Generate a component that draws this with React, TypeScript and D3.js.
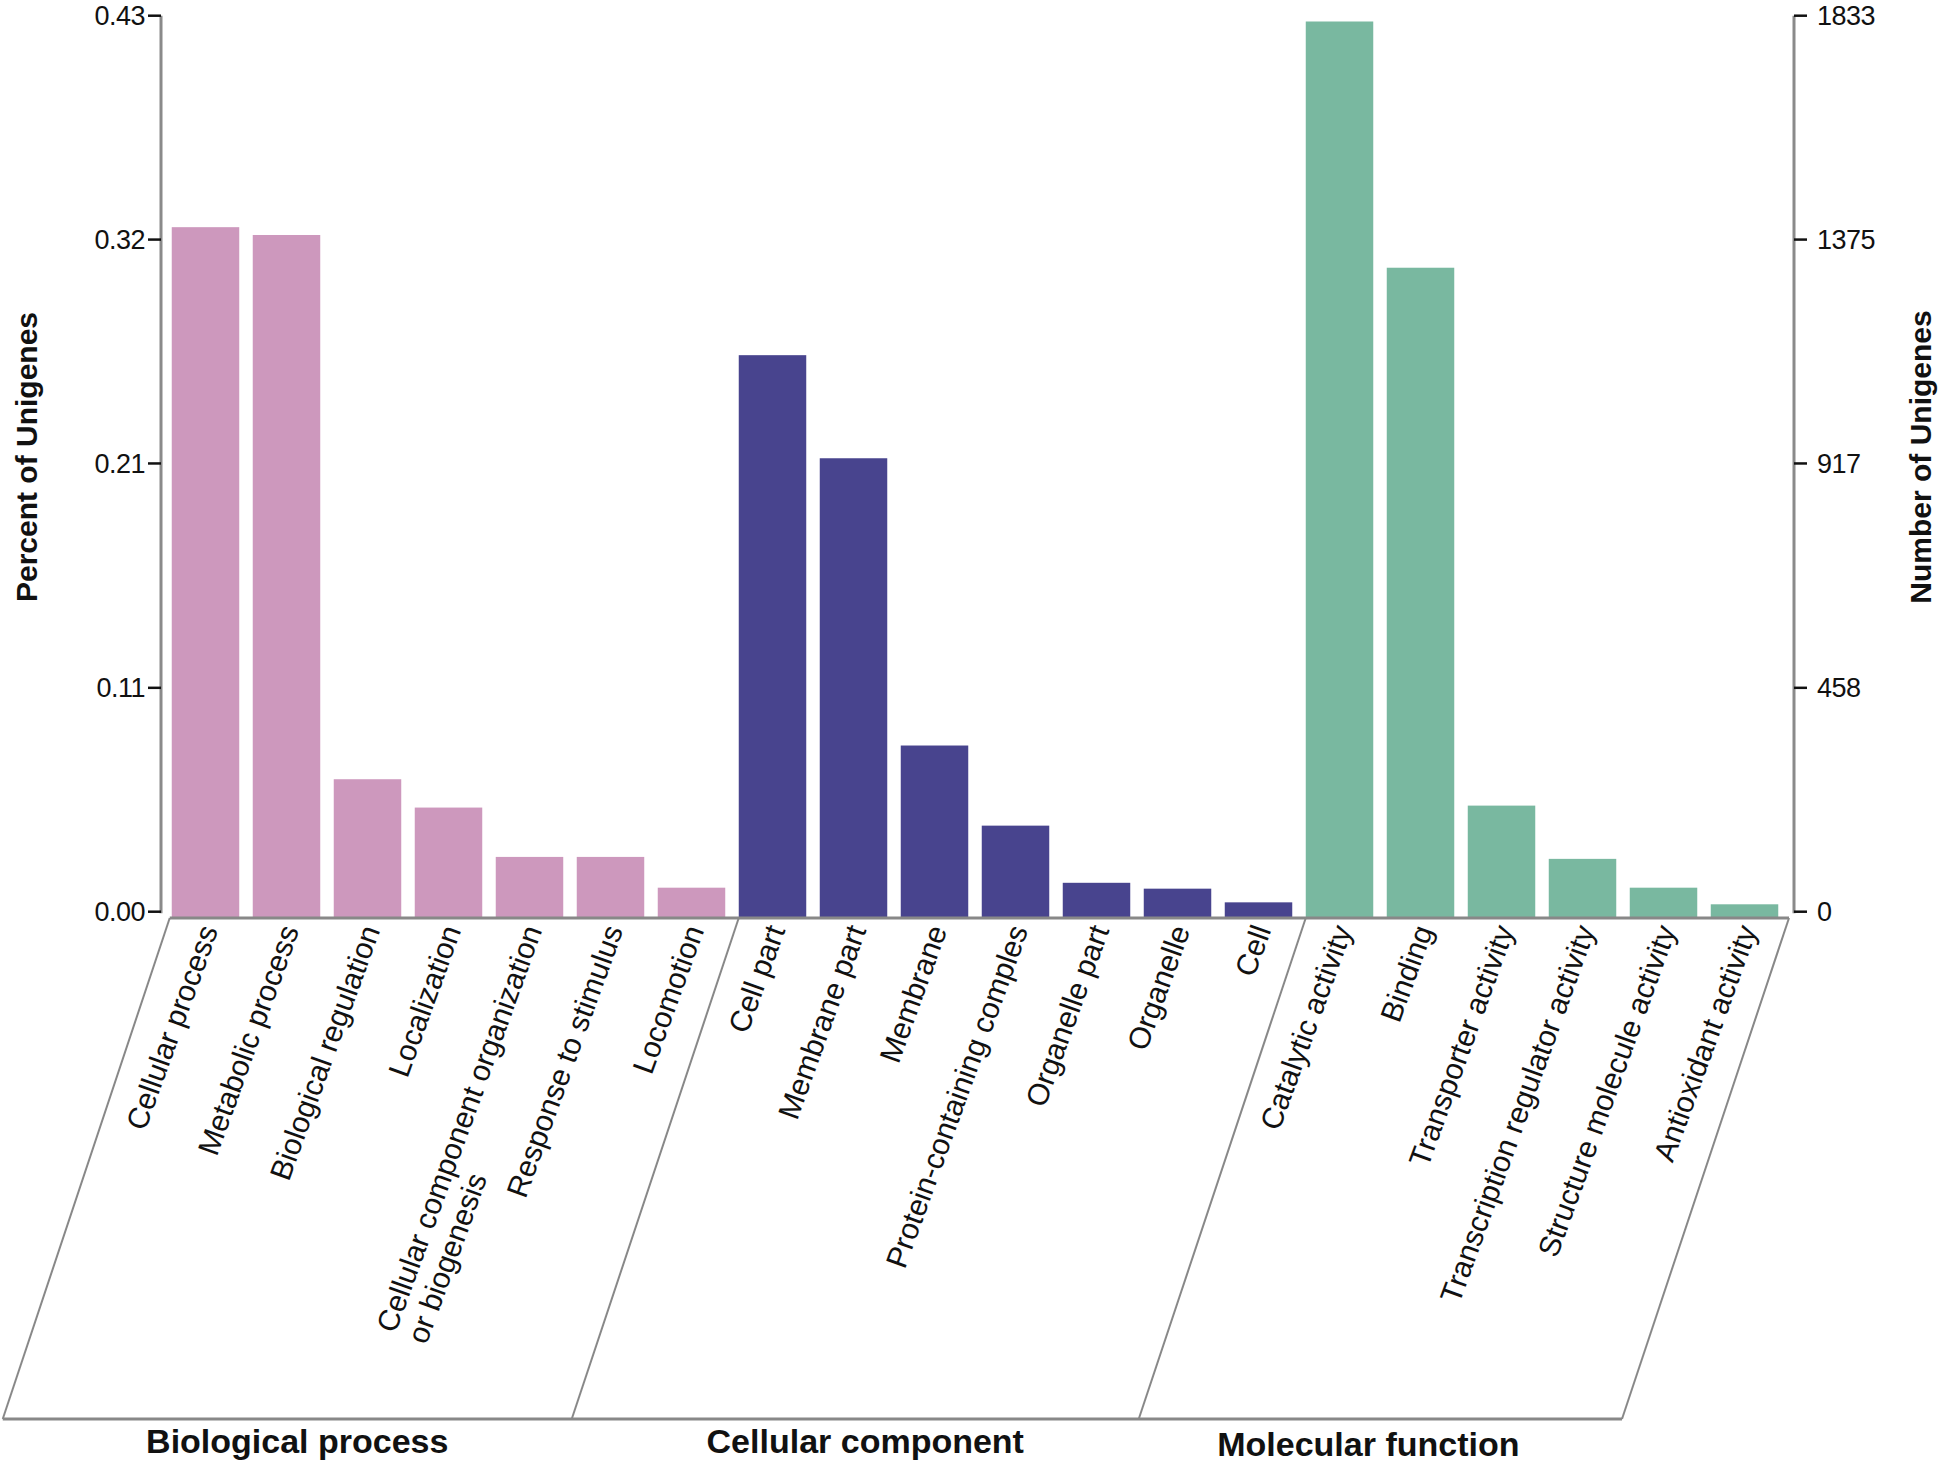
import React from "react";
import * as d3 from "d3";

const categories = [
  "Cellular process", "Metabolic process", "Biological regulation", "Localization",
  "Cellular component organization\nor biogenesis", "Response to stimulus", "Locomotion",
  "Cell part", "Membrane part", "Membrane", "Protein-containing comples", "Organelle part",
  "Organelle", "Cell",
  "Catalytic activity", "Binding", "Transporter activity", "Transcription regulator activity",
  "Structure molecule activity", "Antioxidant activity",
];
const counts = [1412, 1396, 282, 224, 123, 123, 60, 1150, 939, 351, 187, 70, 58, 30, 1833, 1329, 228, 119, 60, 26];
const groupNames = ["Biological process", "Cellular component", "Molecular function"];
const groupSizes = [7, 7, 6];
const groupColors = ["#CD98BD", "#48448E", "#79B8A0"];
const rightTickValues = [0, 458, 917, 1375, 1833];
const leftTickLabels = ["0.00", "0.11", "0.21", "0.32", "0.43"];

const W = 1944, H = 1464;
const FONT = "'Liberation Sans', Arial, Helvetica, sans-serif";
const LABEL_SIZE = 30;
const ANGLE = -70;

function measure(text: string, size: number) {
  const c = document.createElement("canvas").getContext("2d");
  if (!c) return text.length * size * 0.5;
  c.font = `${size}px 'Liberation Sans', Arial, sans-serif`;
  return c.measureText(text).width;
}

export default function App() {
  const x = d3.scaleBand<string>().domain(categories).range([165, 1785]).paddingInner(0.1667).paddingOuter(0.0833);
  const y = d3.scaleLinear().domain([0, 1833]).range([917, 21.5]);
  const yAxis = d3.scaleLinear().domain([0, 1833]).range([911.7, 15.7]);
  const leftX = 161, rightX = 1794, baseY = 918, bottomY = 1419;
  const slant = (bottomY - baseY) / 3;

  const groupIdx: number[] = [];
  groupSizes.forEach((n, g) => { for (let i = 0; i < n; i++) groupIdx.push(g); });
  const starts: number[] = [];
  let acc = 0;
  groupSizes.forEach((n) => { starts.push(acc); acc += n; });

  const topXs = [x(categories[0])! - 2, ...starts.slice(1).map((s) => x(categories[s])!), rightX - 5];
  const groupLabelOffsets = [10, 10, -12];
  const groupLabelBase = [1453, 1453, 1456];

  return (
    <svg width={W} height={H} style={{ position: "absolute", left: 0, top: 0, display: "block", background: "#fff" }} fontFamily={FONT}>
      {/* bars */}
      {counts.map((v, i) => (
        <rect key={i} x={x(categories[i])} y={y(v)} width={x.bandwidth()} height={y(0) - y(v)} fill={groupColors[groupIdx[i]]} />
      ))}
      {/* left axis */}
      <line x1={leftX} x2={leftX} y1={yAxis(1833)} y2={yAxis(0) + 1.5} stroke="#8a8a8a" strokeWidth={3} />
      {rightTickValues.map((v, i) => (
        <g key={"l" + i}>
          <line x1={leftX - 13} x2={leftX} y1={yAxis(v)} y2={yAxis(v)} stroke="#111" strokeWidth={2.5} />
          <text x={leftX - 16} y={yAxis(v)} dy="0.35em" textAnchor="end" fontSize={27} fill="#111" letterSpacing={-0.5}>{leftTickLabels[i]}</text>
        </g>
      ))}
      {/* right axis */}
      <line x1={rightX} x2={rightX} y1={yAxis(1833)} y2={yAxis(0) + 1.5} stroke="#8a8a8a" strokeWidth={3} />
      {rightTickValues.map((v, i) => (
        <g key={"r" + i}>
          <line x1={rightX} x2={rightX + 13} y1={yAxis(v)} y2={yAxis(v)} stroke="#111" strokeWidth={2.5} />
          <text x={rightX + 23} y={yAxis(v)} dy="0.35em" textAnchor="start" fontSize={27} fill="#111" letterSpacing={-0.5}>{v}</text>
        </g>
      ))}
      {/* axis titles */}
      <text transform={`translate(37,457) rotate(-90)`} textAnchor="middle" fontSize={30} fontWeight="bold" fill="#111">Percent of Unigenes</text>
      <text transform={`translate(1931,457) rotate(-90)`} textAnchor="middle" fontSize={30} fontWeight="bold" fill="#111">Number of Unigenes</text>
      {/* baseline & parallelogram */}
      <line x1={topXs[0]} x2={topXs[3]} y1={baseY} y2={baseY} stroke="#888" strokeWidth={3} />
      <line x1={topXs[0] - slant} x2={topXs[3] - slant} y1={bottomY} y2={bottomY} stroke="#888" strokeWidth={3} />
      {topXs.map((tx, i) => (
        <line key={"s" + i} x1={tx} y1={baseY} x2={tx - slant} y2={bottomY} stroke="#888" strokeWidth={2} />
      ))}
      {/* category labels */}
      {categories.map((c, i) => {
        const cx = x(c)! + x.bandwidth() / 2;
        const lines = c.split("\n");
        const w0 = measure(lines[0], LABEL_SIZE);
        return (
          <text key={"c" + i} transform={`translate(${cx + 13},${baseY + 12}) rotate(${ANGLE})`} fontSize={LABEL_SIZE} fill="#111">
            {lines.map((ln, j) => (
              <tspan key={j} x={j === 0 ? 0 : -w0} dy={j === 0 ? 0 : LABEL_SIZE * 1.1} textAnchor={j === 0 ? "end" : "start"}>{ln}</tspan>
            ))}
          </text>
        );
      })}
      {/* group labels */}
      {groupNames.map((g, i) => {
        const mid = (topXs[i] + topXs[i + 1]) / 2 - slant;
        return (
          <text key={"g" + i} x={mid + groupLabelOffsets[i]} y={groupLabelBase[i]} textAnchor="middle" fontSize={34} fontWeight="bold" fill="#111">{g}</text>
        );
      })}
    </svg>
  );
}
